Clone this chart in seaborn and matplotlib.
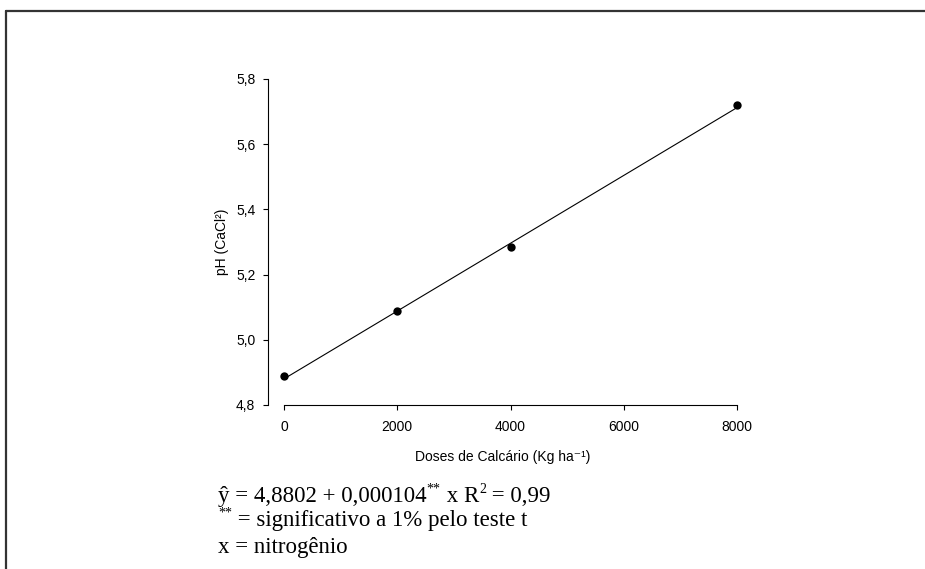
import numpy as np
import pandas as pd
import matplotlib.pyplot as plt
import seaborn as sns
from matplotlib.lines import Line2D

# Observed means
doses = [0, 2000, 4000, 8000]
ph = [4.888, 5.088, 5.285, 5.720]

# Fitted regression: y = 4.8802 + 0.000104 x
intercept = 4.8802
slope = 0.000104

x_ticks = [0, 2000, 4000, 6000, 8000]
y_ticks = [4.8, 5.0, 5.2, 5.4, 5.6, 5.8]

sns.set_style('ticks')
sans = ['Liberation Sans', 'DejaVu Sans']
serif = ['Liberation Serif', 'DejaVu Serif']
plt.rcParams['font.family'] = sans
plt.rcParams['text.color'] = 'black'
plt.rcParams['axes.labelcolor'] = 'black'
plt.rcParams['xtick.color'] = 'black'
plt.rcParams['ytick.color'] = 'black'

df = pd.DataFrame({'dose': doses, 'ph': ph})
fit = pd.DataFrame({'dose': [0, 8000]})
fit['ph'] = intercept + slope * fit['dose']

W, H = 925, 569
fig = plt.figure(figsize=(W / 100, H / 100), dpi=100)
ax = fig.add_axes([268 / W, 1 - 405 / H, (737 - 268) / W, (405 - 79) / H])

sns.lineplot(data=fit, x='dose', y='ph', ax=ax, color='black', linewidth=0.8)
sns.scatterplot(data=df, x='dose', y='ph', ax=ax, color='black', s=36, linewidth=0,
                zorder=3, clip_on=False)

ax.set_xlim(-283, 8000)
ax.set_ylim(4.8, 5.8)
ax.set_xticks(x_ticks)
ax.set_yticks(y_ticks)
ax.set_yticklabels([f'{v:.1f}'.replace('.', ',') for v in y_ticks])
ax.set_xticklabels([str(v) for v in x_ticks])
ax.spines['top'].set_visible(False)
ax.spines['right'].set_visible(False)
ax.spines['bottom'].set_bounds(0, 8000)
ax.tick_params(axis='y', labelsize=10, direction='out', length=3.6, width=0.8, pad=5.5)
ax.tick_params(axis='x', labelsize=10, direction='out', length=3.6, width=0.8, pad=7)
for s in ['left', 'bottom']:
    ax.spines[s].set_linewidth(0.8)
    ax.spines[s].set_color('black')

ax.set_xlabel('Doses de Calcário (Kg ha⁻¹)', fontsize=10, labelpad=12)
ax.set_ylabel('pH (CaCl²)', fontsize=10, labelpad=5)

# Equation text below the chart, drawn piece by piece for superscripts
renderer = fig.canvas.get_renderer()


def draw_pieces(x_px, base_px, pieces):
    x = x_px / W
    for text, size, rise in pieces:
        t = fig.text(x, 1 - (base_px - rise) / H, text, family=serif,
                     fontsize=size, va='baseline', ha='left')
        x = t.get_window_extent(renderer).x1 / W


big, small = 16.5, 10
draw_pieces(218, 502, [('ŷ = 4,8802 + 0,000104', big, 0), ('**', small, 9),
                       (' x R', big, 0), ('2', small, 9), (' = 0,99', big, 0)])
draw_pieces(218, 526, [('**', small, 9), (' = significativo a 1% pelo teste t', big, 0)])
draw_pieces(218, 553, [('x = nitrogênio', big, 0)])

# Outer frame (top and left edges)
fig.add_artist(Line2D([6 / W, 1], [1 - 11 / H, 1 - 11 / H], color='#333333', linewidth=1.6))
fig.add_artist(Line2D([6 / W, 6 / W], [0, 1 - 11 / H], color='#333333', linewidth=1.6))

fig.savefig('out.png', dpi=100)
